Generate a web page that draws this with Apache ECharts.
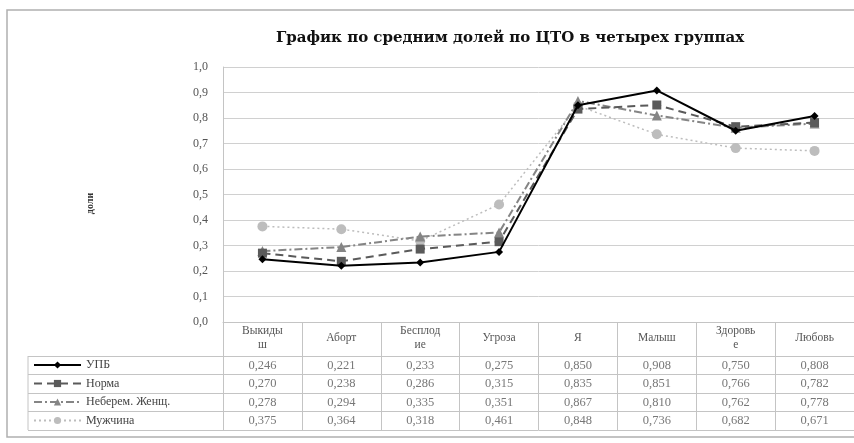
<!DOCTYPE html>
<html>
<head>
<meta charset="utf-8">
<script src="https://cdn.jsdelivr.net/npm/echarts@6/dist/echarts.min.js"></script>
<style>html,body{margin:0;padding:0;background:#fff}#c{width:854px;height:443px}</style>
</head>
<body>
<div id="c"></div>
<script>
const titleText = 'График по средним долей по ЦТО в четырех группах';
const yAxisName = 'доли';
const categories = ['Выкидыш', 'Аборт', 'Бесплодие', 'Угроза', 'Я', 'Малыш', 'Здоровье', 'Любовь'];
const tickLabels = ['Выкиды\nш', 'Аборт', 'Бесплод\nие', 'Угроза', 'Я', 'Малыш', 'Здоровь\nе', 'Любовь'];
const seriesNames = ['УПБ', 'Норма', 'Неберем. Женщ.', 'Мужчина'];
const upb = [0.246, 0.221, 0.233, 0.275, 0.850, 0.908, 0.750, 0.808];
const norma = [0.270, 0.238, 0.286, 0.315, 0.835, 0.851, 0.766, 0.782];
const neberem = [0.278, 0.294, 0.335, 0.351, 0.867, 0.810, 0.762, 0.778];
const muzh = [0.375, 0.364, 0.318, 0.461, 0.848, 0.736, 0.682, 0.671];
const allValues = [upb, norma, neberem, muzh];

const serif = 'Liberation Serif';
const gridColor = '#d0d0d0';
const tableColor = '#c4c4c4';
const fmt = v => v.toFixed(3).replace('.', ',');

const styles = [
  {color: '#000000', width: 2, type: 'solid', symbol: 'diamond', size: 8},
  {color: '#5a5a5a', width: 2, type: [8, 5], symbol: 'rect', size: 9},
  {color: '#858585', width: 2, type: [8, 3, 2, 3], symbol: 'triangle', size: 10},
  {color: '#bdbdbd', width: 1.5, type: [2, 3], symbol: 'circle', size: 10}
];

const lineSeries = allValues.map((vals, i) => ({
  name: seriesNames[i],
  type: 'line',
  xAxisIndex: 0,
  yAxisIndex: 0,
  data: vals,
  symbol: styles[i].symbol,
  symbolSize: styles[i].size,
  showAllSymbol: true,
  z: 10 - i,
  lineStyle: {color: styles[i].color, width: styles[i].width, type: styles[i].type},
  itemStyle: {color: styles[i].color, borderWidth: 0}
}));

const cellData = [];
allValues.forEach((vals, i) => vals.forEach((v, j) => cellData.push([j, i, v])));

const chart = echarts.init(document.getElementById('c'));
chart.setOption({
  backgroundColor: '#fff',
  animation: false,
  title: {
    text: titleText,
    left: 505, top: 26, textAlign: 'center',
    textStyle: {fontFamily: 'DejaVu Serif', fontSize: 15, fontWeight: 'bold', color: '#111'}
  },
  legend: {
    data: seriesNames,
    orient: 'vertical',
    left: 33, top: 358, padding: 0,
    itemWidth: 47, itemHeight: 9, itemGap: 4.5,
    textStyle: {fontFamily: serif, fontSize: 12, color: '#444', lineHeight: 14},
    selectedMode: false
  },
  graphic: [
    {type: 'rect', shape: {x: 7, y: 10, width: 880, height: 427}, style: {fill: 'none', stroke: '#b0b0b0', lineWidth: 1.5}, silent: true},
    {type: 'line', shape: {x1: 28, y1: 356, x2: 28, y2: 430}, style: {stroke: tableColor, lineWidth: 1}, silent: true}
  ],
  grid: [
    {left: 223, top: 67, width: 644, height: 255},
    {left: 223, top: 356, width: 644, height: 74}
  ],
  xAxis: [
    {
      type: 'category', gridIndex: 0, data: categories, boundaryGap: true,
      axisLine: {show: true, lineStyle: {color: tableColor}},
      axisTick: {show: true, interval: 0, length: 108, lineStyle: {color: tableColor}},
      axisLabel: {
        interval: 0, margin: 16, verticalAlign: 'middle',
        formatter: (v, idx) => tickLabels[idx],
        fontFamily: serif, fontSize: 11.5, lineHeight: 14, color: '#555'
      }
    },
    {
      type: 'category', gridIndex: 1, data: categories, boundaryGap: true, show: false
    }
  ],
  yAxis: [
    {
      type: 'value', gridIndex: 0, min: 0, max: 1, interval: 0.1,
      name: yAxisName, nameLocation: 'middle', nameGap: 128,
      nameTextStyle: {fontFamily: serif, fontSize: 10, fontWeight: 'bold', color: '#333', padding: [0, 18, 0, 0]},
      axisLine: {show: true, lineStyle: {color: tableColor}},
      axisTick: {show: false},
      splitLine: {show: true, lineStyle: {color: gridColor}},
      axisLabel: {margin: 15, formatter: v => v.toFixed(1).replace('.', ','), fontFamily: serif, fontSize: 12, color: '#555'}
    },
    {
      type: 'category', gridIndex: 1, data: seriesNames, inverse: true, boundaryGap: true,
      axisLine: {show: false},
      axisLabel: {show: false},
      axisTick: {show: true, interval: 0, length: 195, lineStyle: {color: tableColor}},
      splitLine: {show: true, interval: 0, lineStyle: {color: tableColor}}
    }
  ],
  series: lineSeries.concat([{
    name: 'table',
    type: 'scatter',
    xAxisIndex: 1, yAxisIndex: 1,
    symbolSize: 0,
    silent: true,
    data: cellData,
    label: {
      show: true, position: 'inside',
      formatter: p => fmt(p.value[2]),
      fontFamily: serif, fontSize: 12.5, color: '#555'
    }
  }])
});
</script>
</body>
</html>
